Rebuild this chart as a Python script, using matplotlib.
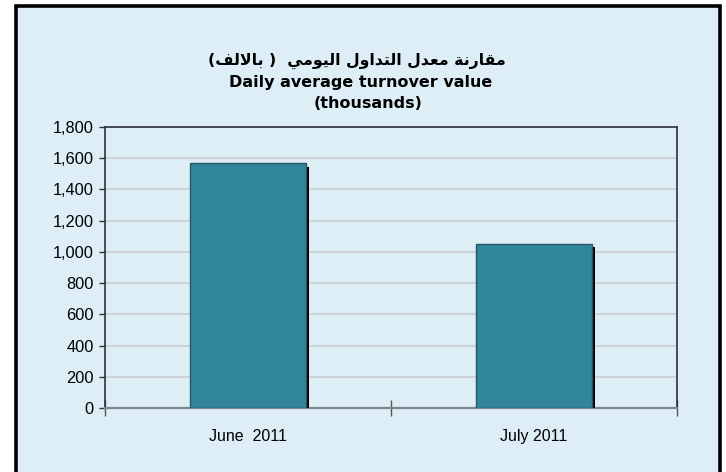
import matplotlib
matplotlib.use("Agg")
import matplotlib.pyplot as plt
from matplotlib.patches import Rectangle
import matplotlib.patheffects as pe

categories = ["June  2011", "July 2011"]
values = [1567, 1052]
yticks = [0, 200, 400, 600, 800, 1000, 1200, 1400, 1600, 1800]
title_ar = "مقارنة معدل التداول اليومي  ( بالالف)"
title_en1 = "Daily average turnover value"
title_en2 = "(thousands)"

# minimal Arabic shaping (matplotlib has no complex text layout)
FORMS = {
    'ا': ('\uFE8D', '\uFE8E', None, None),
    'ب': ('\uFE8F', '\uFE90', '\uFE91', '\uFE92'),
    'ت': ('\uFE95', '\uFE96', '\uFE97', '\uFE98'),
    'ة': ('\uFE93', '\uFE94', None, None),
    'د': ('\uFEA9', '\uFEAA', None, None),
    'ر': ('\uFEAD', '\uFEAE', None, None),
    'ع': ('\uFEC9', '\uFECA', '\uFECB', '\uFECC'),
    'ف': ('\uFED1', '\uFED2', '\uFED3', '\uFED4'),
    'ق': ('\uFED5', '\uFED6', '\uFED7', '\uFED8'),
    'ل': ('\uFEDD', '\uFEDE', '\uFEDF', '\uFEE0'),
    'م': ('\uFEE1', '\uFEE2', '\uFEE3', '\uFEE4'),
    'ن': ('\uFEE5', '\uFEE6', '\uFEE7', '\uFEE8'),
    'و': ('\uFEED', '\uFEEE', None, None),
    'ي': ('\uFEF1', '\uFEF2', '\uFEF3', '\uFEF4'),
    'LA': ('\uFEFB', '\uFEFC', None, None),
}


def shape_arabic(text):
    toks = []
    i = 0
    while i < len(text):
        if text[i] == 'ل' and i + 1 < len(text) and text[i + 1] == 'ا':
            toks.append('LA')
            i += 2
        else:
            toks.append(text[i])
            i += 1
    out = []
    for k, t in enumerate(toks):
        if t not in FORMS:
            out.append({'(': ')', ')': '('}.get(t, t))
            continue
        prev = toks[k - 1] if k > 0 else None
        nxt = toks[k + 1] if k + 1 < len(toks) else None
        pj = prev in FORMS and FORMS[prev][2] is not None
        nj = FORMS[t][2] is not None and nxt in FORMS
        iso, fin, ini, med = FORMS[t]
        if pj and nj:
            out.append(med)
        elif pj:
            out.append(fin)
        elif nj:
            out.append(ini)
        else:
            out.append(iso)
    return ''.join(reversed(out))


W, H = 726, 472
fig = plt.figure(figsize=(W / 100, H / 100), dpi=100)
fig.patch.set_facecolor('white')

bg = '#DDEEF7'
frame = Rectangle((16 / W, -0.05), (720 - 16) / W, (472 - 6) / H + 0.05,
                  transform=fig.transFigure, facecolor=bg, edgecolor='black',
                  linewidth=2.6, zorder=-10)
fig.add_artist(frame)

ax = fig.add_axes([105 / W, (H - 408) / H, (677 - 105) / W, (408 - 127) / H])
ax.set_zorder(1)
ax.set_facecolor(bg)

x = list(range(len(categories)))
bars = ax.bar(x, values, width=0.405, color='#31869E', edgecolor='#2A5664',
              linewidth=1.0, zorder=3)
for b in bars:
    b.set_path_effects([pe.SimplePatchShadow(offset=(2.4, -2.4),
                                             shadow_rgbFace='black', alpha=1.0),
                        pe.Normal()])

ax.set_xlim(-0.5, 1.5)
ax.set_ylim(0, 1800)
ax.set_yticks(yticks)
ax.set_yticklabels([f"{v:,}" for v in yticks], fontsize=11.8,
                   family='Liberation Sans')
ax.yaxis.grid(True, color='#CBD0D3', linewidth=1.3, zorder=1)
ax.set_axisbelow(True)
ax.tick_params(axis='y', length=4, width=1, color='#333333', pad=4)

ax.set_xticks(x)
ax.set_xticklabels(categories, fontsize=11.5, family='Liberation Sans')
ax.tick_params(axis='x', which='major', length=0, pad=15)
ax.set_xticks([-0.5, 0.5, 1.5], minor=True)
ax.tick_params(axis='x', which='minor', direction='inout', length=12,
               width=1, color='#555555')

for s in ['top', 'right', 'left']:
    ax.spines[s].set_color('#2B3338')
    ax.spines[s].set_linewidth(1.2)
ax.spines['bottom'].set_color('#7F8589')
ax.spines['bottom'].set_linewidth(1.6)

fig.text(357 / W, 1 - 61 / H, shape_arabic(title_ar), ha='center', va='center',
         fontsize=11.3, fontweight='bold', family='DejaVu Sans')
fig.text(361 / W, 1 - 82 / H, title_en1, ha='center', va='center',
         fontsize=11.5, fontweight='bold', family='DejaVu Sans')
fig.text(368 / W, 1 - 104 / H, title_en2, ha='center', va='center',
         fontsize=11.5, fontweight='bold', family='DejaVu Sans')

fig.savefig('out.png', dpi=100, facecolor='white')
